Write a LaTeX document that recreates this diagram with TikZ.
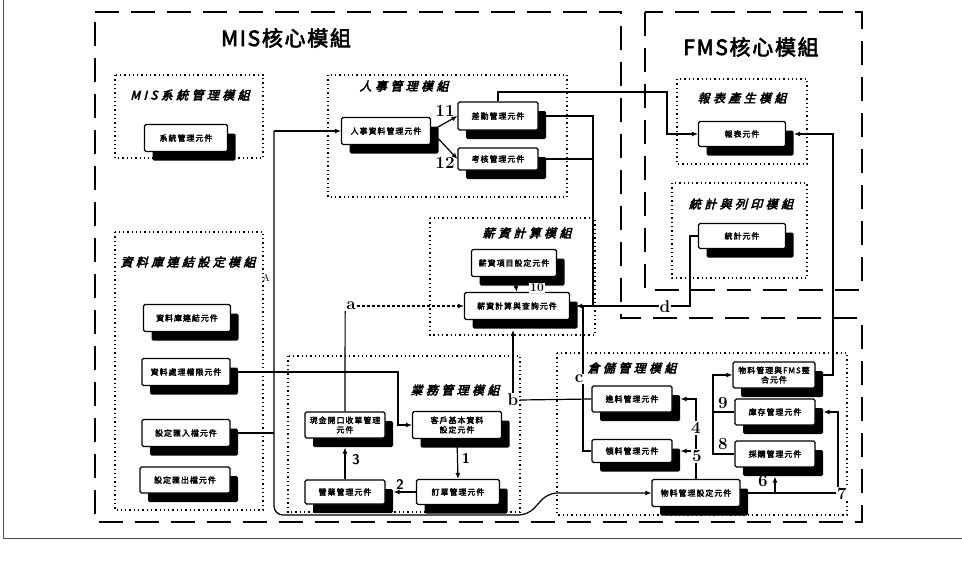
\documentclass[tikz,border=0pt]{standalone}
\usepackage{fontspec}
\usetikzlibrary{arrows.meta,shadows}
\newfontfamily\cjk[FakeBold=2.5,LetterSpace=12]{Noto Sans CJK TC}
\newfontfamily\cjkmod[FakeSlant=0.25,FakeBold=3.5,LetterSpace=28]{Noto Sans CJK TC}
\newfontfamily\cjkcore[FakeBold=3,LetterSpace=8]{Noto Sans CJK TC}

\begin{document}
\begin{tikzpicture}[x=1pt,y=-1pt,
  >={Latex[length=6pt,width=5pt]},
  core/.style={line width=2.6pt,dash pattern=on 24pt off 12pt},
  modbox/.style={line width=1.3pt,dash pattern=on 1.3pt off 3pt},
  coretitle/.style={font=\cjkcore\fontsize{21}{24}\selectfont},
  modtitle/.style={font=\cjkmod\fontsize{12}{14}\selectfont},
  comp/.style={draw,line width=1.1pt,fill=white,rounded corners=1.5pt,align=center,inner sep=1pt,
    font=\cjk\fontsize{8}{9.5}\selectfont,
    drop shadow={shadow xshift=8pt,shadow yshift=-9pt,opacity=1,fill=black}},
  sz/.style 2 args={minimum width=#1pt,minimum height=#2pt},
  link/.style={line width=1.2pt},
  num/.style={font=\bfseries\fontsize{17}{17}\selectfont,inner sep=1pt},
  bnum/.style={font=\sffamily\bfseries\fontsize{14}{14}\selectfont,inner sep=1pt},
  tag/.style={font=\bfseries\fontsize{17}{17}\selectfont,inner sep=1pt,fill=white}
]
\useasboundingbox (0,0) rectangle (962,562);
\draw[line width=0.8pt,black!70] (3,0) -- (3,538) -- (962,538);

% core areas
\draw[core] (95,12) -- (621,12) -- (621,318) -- (862,318) -- (862,522) -- (95,522) -- cycle;
\draw[core] (645,12) rectangle (862,290);
\node[coretitle] (mistitle) at (286,38) {MIS核心模組};
\node[coretitle] (fmstitle) at (751,47) {FMS核心模組};

% modules
\draw[modbox] (115,75) rectangle (263,158);
\node[modtitle] (sysmod) at (190,95) {MIS系統管理模組};
\draw[modbox] (328,75) rectangle (567,197);
\node[modtitle] (hrmod) at (404,86) {人事管理模組};
\draw[modbox] (677,79) rectangle (807,164);
\node[modtitle] (repmod) at (742,98) {報表產生模組};
\draw[modbox] (672,183) rectangle (807,278);
\node[modtitle] (statmod) at (741,204) {統計與列印模組};
\draw[modbox] (430,218) rectangle (595,335);
\node[modtitle] (paymod) at (527,233) {薪資計算模組};
\draw[modbox] (115,232) rectangle (263,510);
\node[modtitle] (dbmod) at (188,262) {資料庫連結設定模組};
\draw[modbox] (288,356) rectangle (520,512);
\node[modtitle] (bizmod) at (455,390) {業務管理模組};
\draw[modbox] (557,353) rectangle (847,515);
\node[modtitle] (whmod) at (632,368) {倉儲管理模組};

% components
\node[comp,sz={83}{27}] (sysm) at (186,138) {系統管理元件};
\node[comp,sz={89}{27}] (hrdata) at (386,131) {人事資料管理元件};
\node[comp,sz={80}{28}] (attend) at (498,116) {差勤管理元件};
\node[comp,sz={80}{22}] (assess) at (498,159) {考核管理元件};
\node[comp,sz={87}{25}] (report) at (742,134) {報表元件};
\node[comp,sz={87}{25}] (stat) at (742,236) {統計元件};
\node[comp,sz={85}{27}] (payitem) at (514,263) {薪資項目設定元件};
\node[comp,sz={105}{27}] (paycalc) at (517,306) {薪資計算與查詢元件};
\node[comp,sz={87}{27}] (dblink) at (187,318) {資料庫連結元件};
\node[comp,sz={88}{27}] (dbauth) at (186,372) {資料處理權限元件};
\node[comp,sz={88}{27}] (imp) at (186,433) {設定匯入檔元件};
\node[comp,sz={90}{26}] (exp) at (185,480) {設定匯出檔元件};
\node[comp,sz={80}{26}] (cash) at (345,425) {現金開口收單管理\\元件};
\node[comp,sz={89}{27}] (cust) at (457,425) {客戶基本資料\\設定元件};
\node[comp,sz={80}{24}] (sales) at (345,492) {營業管理元件};
\node[comp,sz={83}{25}] (order) at (458,492) {訂單管理元件};
\node[comp,sz={80}{26}] (inmat) at (632,399) {進料管理元件};
\node[comp,sz={80}{23}] (outmat) at (632,451) {領料管理元件};
\node[comp,sz={82}{26}] (fmsint) at (774,375) {物料管理與FMS整\\合元件};
\node[comp,sz={80}{26}] (stock) at (775,412) {庫存管理元件};
\node[comp,sz={80}{26}] (purch) at (775,454) {採購管理元件};
\node[comp,sz={88}{27}] (matset) at (696,493) {物料管理設定元件};

% bus on the left
\coordinate (busT) at (274,131);
\draw[link,->] (busT) -- (hrdata.west);
\draw[link,->,rounded corners=9pt] (busT) -- (274,515) -- (528,515) -- (548,493) -- (matset.west);
\draw[link] (imp.east) -- (imp.east -| busT);
\draw[link,->] (dbauth.east) -- (398,372) |- (cust.west);
\node[font=\fontsize{10}{10}\selectfont] (lA) at (266,278) {A};

% personnel
\draw[link,->] (hrdata.east) -- (attend.west);
\draw[link,->] (hrdata.east) -- (assess.west);
\node[num] (n11) at (445,111) {11};
\node[num] (n12) at (445,163) {12};
\draw[link] (attend.east) -- (593,116) -- (593,307);
\draw[link] (assess.east) -- (593,159);
\draw[link,->] (attend.north) -- (498,92) -- (667,92) |- (report.west);

% payroll
\draw[link,->] (payitem.south) -- (paycalc.north);
\node[font=\bfseries\fontsize{12}{12}\selectfont,inner sep=1pt,fill=white] (n10) at (537,288) {10};
\node[tag] (la) at (351,306) {a};
\draw[link] (cash.north) -- (la.south west);
\draw[link,densely dashed,->] (la.east) -- (paycalc.west);
\draw[link,->] (stat.west) -- (690,236) |- ([xshift=6pt]paycalc.east);
\node[tag] (ld) at (665,307) {d};
\node[tag] (lb) at (513,400) {b};
\draw[link,->] (lb.north) -- (513,330);
\draw[link] (lb.east) -- (inmat.west);
\draw[link] (outmat.west) -- (583,451) -- (583,307);
\node[tag] (lc) at (579,379) {c};

% business
\draw[link,->] (cust.south) -- (order.north);
\draw[link,->] (order.west) -- ([xshift=8pt]sales.east);
\draw[link,->] (sales.north) -- ([yshift=-9pt]cash.south);
\node[bnum] (n1) at (466,458) {1};
\node[bnum] (n2) at (400,484) {2};
\node[bnum] (n3) at (356,460) {3};

% warehouse
\draw[link,->] (matset.north) |- ([xshift=8pt]inmat.east);
\draw[link,->] (matset.north) |- ([xshift=8pt]outmat.east);
\node[tag] (n4) at (696,428) {4};
\node[tag] (n5) at (697,456) {5};
\draw[link,->] (matset.east) -- (838,493) |- ([xshift=8pt]stock.east);
\draw[link,->] (matset.east -| purch.south) -- ([yshift=-9pt]purch.south);
\node[num] (n6) at (763,481) {6};
\node[tag] (n7) at (842,494) {7};
\draw[link,->] (stock.west) -- (713,412) |- (fmsint.west);
\draw[link] (purch.west) -- (713,454) -- (713,412);
\node[num] (n9) at (723,403) {9};
\node[num] (n8) at (723,444) {8};
\draw[link,->] (fmsint.east) -- (833,375) -- (833,134) -- ([xshift=8pt]report.east);
\end{tikzpicture}
\end{document}
